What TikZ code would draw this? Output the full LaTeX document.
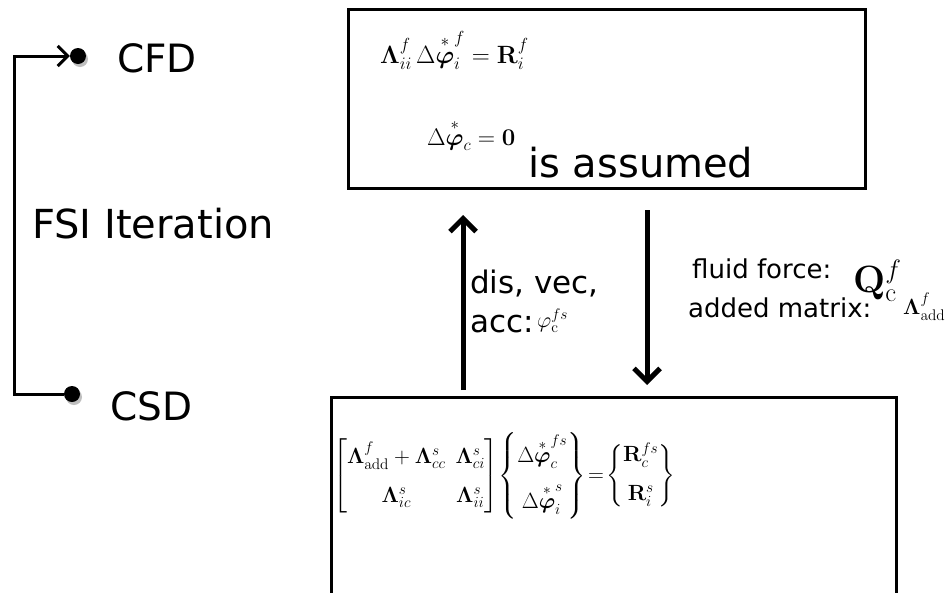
\documentclass[tikz,border=0pt]{standalone}
\usepackage{fix-cm}
\usepackage{amsmath,bm}
\usepackage[no-math]{fontspec}
\setmainfont{DejaVu Sans}
\usetikzlibrary{arrows.meta}

\begin{document}
\begin{tikzpicture}[x=1pt,y=-1pt,
  txt/.style={anchor=base west,inner sep=0pt},
  box/.style={draw,line width=2.6pt,anchor=north west,inner sep=0pt},
  bigarrow/.style={line width=5pt,-{Straight Barb[length=13pt,width=26pt]}},
  loopline/.style={line width=3pt,-{Straight Barb[length=10pt,width=20pt]}},
  dot/.style={circle,fill=black,inner sep=0pt,minimum size=16pt}
]
\useasboundingbox (0,0) rectangle (947,592);
\clip (0,0) rectangle (947,592);
\fill[white] (0,0) rectangle (947,592);

% left: FSI iteration loop
\fill[black!25] (80,59) circle[radius=8];
\fill[black!25] (74,397) circle[radius=8];
\node[dot] (cfddot) at (78,56) {};
\node[dot] (csddot) at (72,394) {};
\coordinate (lc1) at (14,394);
\coordinate (lc2) at (14,56);
\draw[loopline] (csddot) -- (lc1) -- (lc2) -- (cfddot);
\node[txt,font=\fontsize{39}{47}\selectfont] (cfd) at (117,72) {CFD};
\node[txt,font=\fontsize{40}{48}\selectfont] (fsi) at (32,238) {FSI Iteration};
\node[txt,font=\fontsize{39}{47}\selectfont] (csd) at (110,420) {CSD};

% top box (CFD)
\node[box,minimum width=517pt,minimum height=179pt] (topbox) at (347,8) {};
\node[txt,font=\fontsize{25}{30}\selectfont] (eqone) at (380,63)
  {$\boldsymbol{\Lambda}_{ii}^{f}\,\Delta\overset{*}{\bm{\varphi}}^{f}_{i}=\mathbf{R}_{i}^{f}$};
\node[txt,font=\fontsize{24}{29}\selectfont] (eqtwo) at (427,145)
  {$\Delta\overset{*}{\bm{\varphi}}_{c}=\mathbf{0}$};
\node[txt,font=\fontsize{40}{48}\selectfont] (assumed) at (528,177) {is assumed};

% arrows
\coordinate (upS) at (463,390);
\coordinate (upE) at (463,215);
\coordinate (dnS) at (647,210);
\coordinate (dnE) at (647,385);
\draw[bigarrow] (upS) -- (upE);
\draw[bigarrow] (dnS) -- (dnE);

\node[txt,font=\fontsize{31}{37}\selectfont] (dis) at (470,293) {dis, vec,};
\node[txt,font=\fontsize{31}{37}\selectfont] (acc) at (470,332) {acc:};
\node[txt,font=\fontsize{22}{26}\selectfont] (phic) at (537,327) {$\varphi_{\mathrm{c}}^{fs}$};

\node[txt,font=\fontsize{26}{31}\selectfont] (fluid) at (692,278) {fluid force:};
\node[txt,font=\fontsize{26}{31}\selectfont] (added) at (688,317) {added matrix:};
\node[txt,font=\fontsize{38}{45}\selectfont] (qc) at (853,292) {$\mathbf{Q}_{\mathrm{c}}^{f}$};
\node[txt,font=\fontsize{22}{26}\selectfont] (lam) at (903,314) {$\boldsymbol{\Lambda}_{\mathrm{add}}^{f}$};

% bottom box (CSD)
\node[box,minimum width=565pt,minimum height=230pt] (botbox) at (330,396) {};
\node[anchor=west,inner sep=0pt,font=\fontsize{22}{27}\selectfont] (eqmat) at (333,476)
  {$\begin{bmatrix}
     \boldsymbol{\Lambda}_{\mathrm{add}}^{f}+\boldsymbol{\Lambda}_{cc}^{s} & \boldsymbol{\Lambda}_{ci}^{s}\\[12pt]
     \boldsymbol{\Lambda}_{ic}^{s} & \boldsymbol{\Lambda}_{ii}^{s}
   \end{bmatrix}\!
   \begin{Bmatrix}
     \Delta\overset{*}{\bm{\varphi}}^{fs}_{c}\\[14pt]
     \Delta\overset{*}{\bm{\varphi}}^{s}_{i}
   \end{Bmatrix}
   \!=\!\begin{Bmatrix}
     \mathbf{R}_{c}^{fs}\\[12pt]
     \mathbf{R}_{i}^{s}
   \end{Bmatrix}$};
\end{tikzpicture}
\end{document}
